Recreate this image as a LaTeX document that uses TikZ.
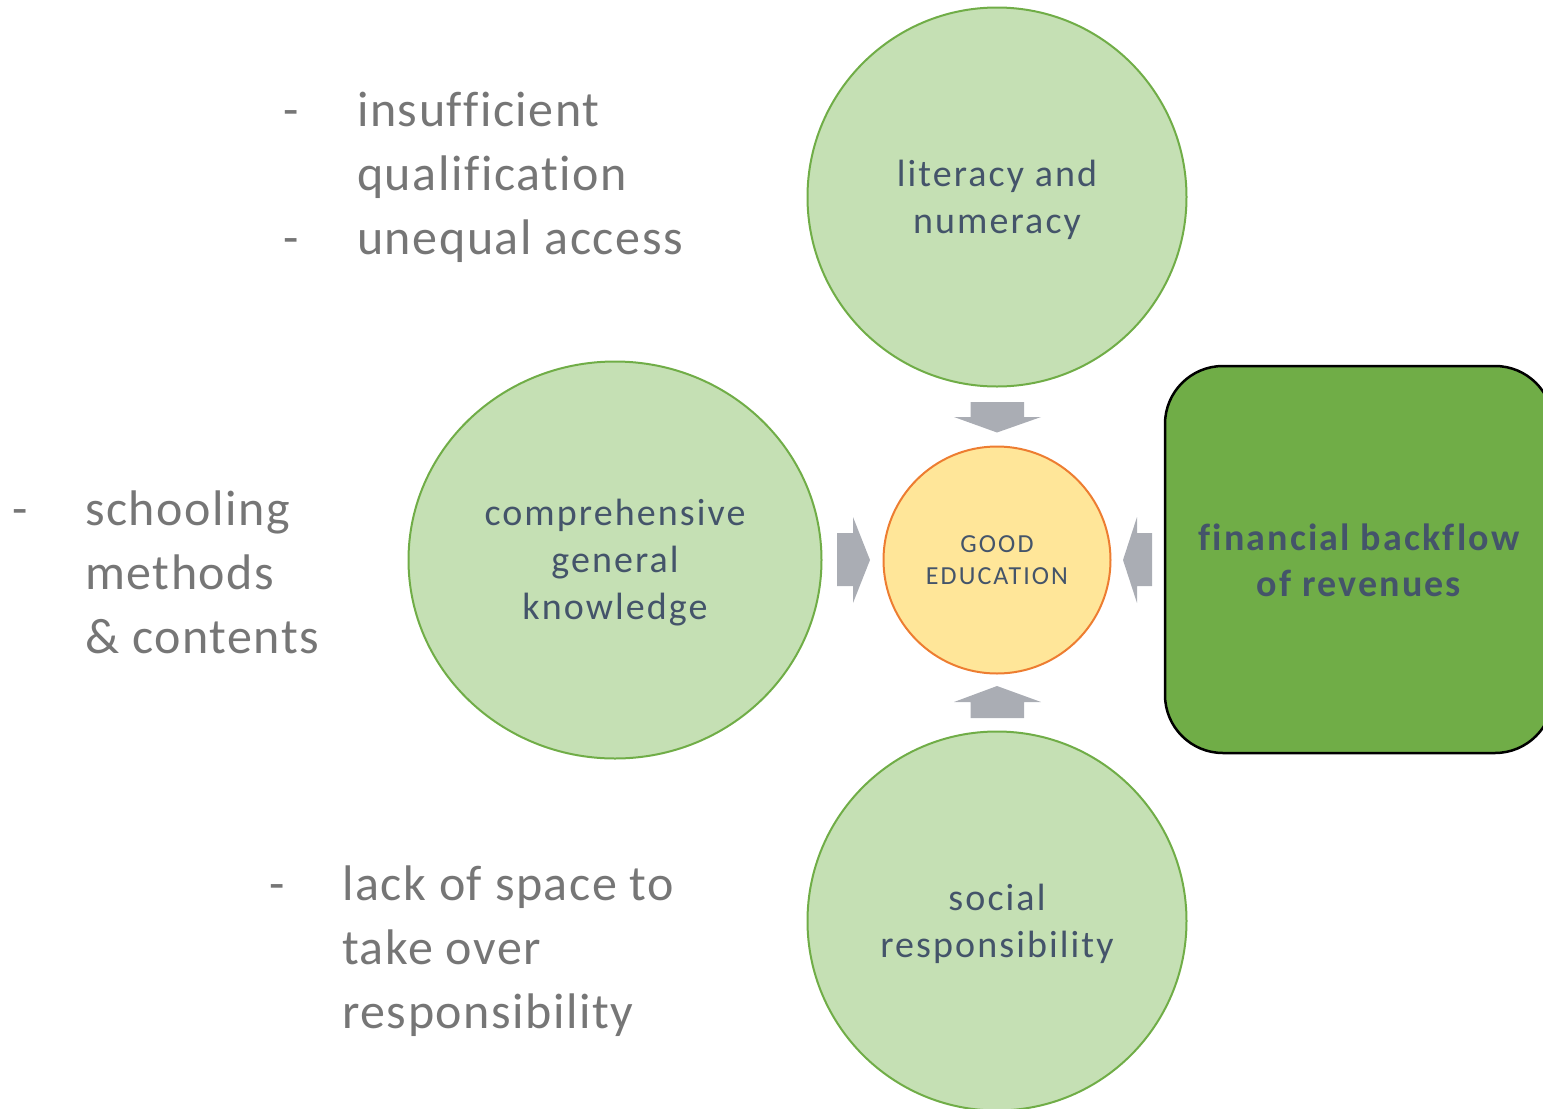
\documentclass[tikz,border=0pt]{standalone}
\usepackage{fontspec}
\usetikzlibrary{shapes.geometric}
\setmainfont{Carlito}[Ligatures=NoCommon]
\newfontfamily\circfont{Carlito}[LetterSpace=5.5,Ligatures=NoCommon]
\newfontfamily\finfont{Carlito}[LetterSpace=5.7,Ligatures=NoCommon]
\newfontfamily\goodfont{Carlito}[LetterSpace=8,Ligatures=NoCommon]
\newfontfamily\sidefont{Carlito}[LetterSpace=3.1,Ligatures=NoCommon]
\definecolor{cfill}{HTML}{C5E0B4}
\definecolor{cline}{HTML}{70AD47}
\definecolor{gfill}{HTML}{FFE699}
\definecolor{gline}{HTML}{ED7D31}
\definecolor{txt}{HTML}{44546A}
\definecolor{side}{HTML}{767676}
\definecolor{arr}{RGB}{170,173,180}
\tikzset{
  bubble/.style={circle, fill=cfill, draw=cline, line width=2pt, inner sep=0pt, minimum size=379pt},
  lbl/.style={text=txt, align=center, font=\circfont\fontsize{38}{47}\selectfont, inner sep=0pt, yshift=-2.5pt},
  sidetxt/.style={text=side, font=\sidefont\fontsize{50}{64}\selectfont, inner sep=0pt, anchor=base west},
  blockarrow/.style={fill=arr, draw=none},
}
\begin{document}
\begin{tikzpicture}[x=1pt,y=-1pt]
\useasboundingbox (0,0) rectangle (1543,1109);
\clip (0,0) rectangle (1543,1109);
% circles
\node[bubble] (top) at (997,197) {};
\node[ellipse, fill=cfill, draw=cline, line width=2pt, inner sep=0pt, minimum width=413pt, minimum height=397pt] (left) at (615,560) {};
\node[bubble] (bot) at (997,921) {};
\node[circle, fill=gfill, draw=gline, line width=2pt, inner sep=0pt, minimum size=227pt] (good) at (997,560) {};
\node[rectangle, rounded corners=58pt, fill=cline, draw=black, line width=2.5pt, minimum width=388pt, minimum height=387pt, inner sep=0pt] (fin) at (1359,559.5) {};
% labels
\node[lbl] (topt) at (top.center) {literacy and\\numeracy};
\node[lbl] (leftt) at (left.center) {comprehensive\\general\\knowledge};
\node[lbl] (bott) at (bot.center) {social\\responsibility};
\node[lbl, yshift=2.5pt, font=\goodfont\fontsize{26}{32}\selectfont] (goodt) at (good.center) {GOOD\\EDUCATION};
\node[lbl, yshift=2pt, font=\finfont\bfseries\fontsize{38}{46}\selectfont] (fint) at (fin.center) {financial backflow\\of revenues};
% block arrows
\fill[blockarrow] (970.5,402) -- (1024,402) -- (1024,417) -- (1041,417) -- (997,432.5) -- (954,417) -- (970.5,417) -- cycle;
\fill[blockarrow] (970.5,718) -- (1024,718) -- (1024,702) -- (1041,702) -- (997,686) -- (954,702) -- (970.5,702) -- cycle;
\fill[blockarrow] (837,533) -- (853,533) -- (853,517) -- (870,560) -- (853,603) -- (853,586) -- (837,586) -- cycle;
\fill[blockarrow] (1152,533) -- (1137,533) -- (1137,517) -- (1123,560) -- (1137,603) -- (1137,586) -- (1152,586) -- cycle;
% side texts
\node[sidetxt] (d1) at (283,126) {-};
\node[sidetxt] (s1) at (357,126) {insufficient};
\node[sidetxt] (s2) at (357,190) {qualification};
\node[sidetxt] (d2) at (283,254) {-};
\node[sidetxt] (s3) at (357,254) {unequal access};
\node[sidetxt] (d3) at (12,525) {-};
\node[sidetxt] (s4) at (85,525) {schooling};
\node[sidetxt] (s5) at (85,589) {methods};
\node[sidetxt] (s6) at (85,653) {\& contents};
\node[sidetxt] (d4) at (269,900) {-};
\node[sidetxt] (s7) at (342,900) {lack of space to};
\node[sidetxt] (s8) at (342,964) {take over};
\node[sidetxt] (s9) at (342,1028) {responsibility};
\end{tikzpicture}
\end{document}
